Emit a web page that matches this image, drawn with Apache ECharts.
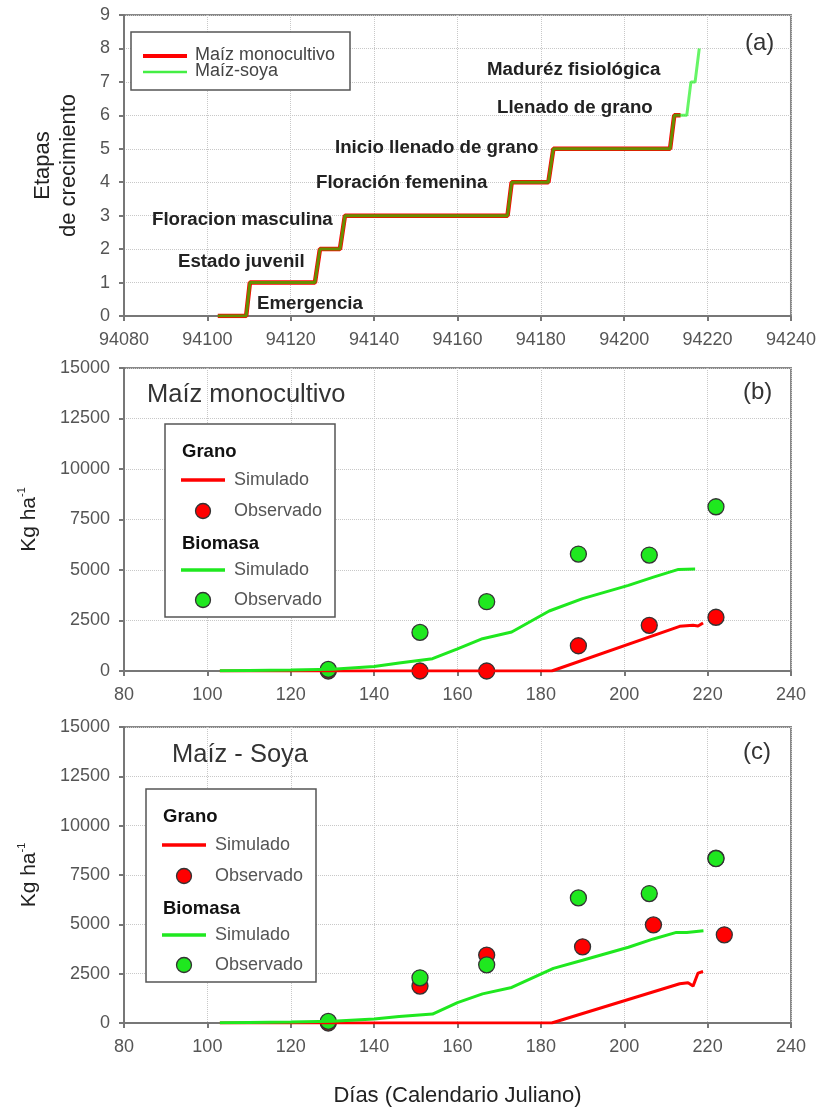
<!DOCTYPE html>
<html>
<head>
<meta charset="utf-8">
<title>Etapas de crecimiento y biomasa</title>
<script src="https://cdn.jsdelivr.net/npm/echarts@6/dist/echarts.min.js"></script>
<style>
html,body{margin:0;padding:0;background:#fff;}
#chart{width:819px;height:1108px;}
</style>
</head>
<body>
<div id="chart"></div>
<script>
// (a) etapas de crecimiento
var monoStageDay = [94102.5, 94109.3, 94110.2, 94125.8, 94127, 94131.8, 94133, 94172, 94173, 94181.8, 94183, 94211, 94212, 94213.5];
var monoStage    = [0, 0, 1, 1, 2, 2, 3, 3, 4, 4, 5, 5, 6, 6];
var soyaStageDay = [94102.5, 94109.3, 94110.2, 94125.8, 94127, 94131.8, 94133, 94172, 94173, 94181.8, 94183, 94211, 94212, 94215, 94216, 94217, 94218];
var soyaStage    = [0, 0, 1, 1, 2, 2, 3, 3, 4, 4, 5, 5, 6, 6, 7, 7, 8];
var stageNames = ['Emergencia', 'Estado juvenil', 'Floracion masculina', 'Floración femenina',
                  'Inicio llenado de grano', 'Llenado de grano', 'Maduréz fisiológica'];

// (b) maiz monocultivo
var monoBioSimDay   = [103, 110, 120, 130, 140, 146, 154, 160, 166, 173, 182, 190, 201, 207, 213, 217];
var monoBioSim      = [10, 30, 50, 90, 220, 400, 610, 1100, 1600, 1930, 2970, 3580, 4240, 4650, 5030, 5050];
var monoGrainSimDay = [103, 181.3, 182.6, 213.3, 216.5, 217.7, 218.9];
var monoGrainSim    = [0, 0, 0, 2210, 2260, 2230, 2380];
var monoObsDay      = [129, 151, 167, 189, 206, 222];
var monoGrainObs    = [0, 0, 0, 1250, 2260, 2660];
var monoBioObs      = [80, 1910, 3430, 5790, 5740, 8130];

// (c) maiz - soya
var soyaBioSimDay   = [103, 110, 120, 130, 140, 146, 154, 160, 166, 173, 183, 190, 201, 207, 212.5, 215, 219];
var soyaBioSim      = [10, 30, 50, 90, 200, 330, 450, 1030, 1475, 1800, 2770, 3180, 3840, 4260, 4590, 4590, 4670];
var soyaGrainSimDay = [103, 181.3, 182.6, 213.3, 215.3, 216.5, 217.7, 218.9];
var soyaGrainSim    = [0, 0, 0, 1990, 2040, 1870, 2530, 2610];
var soyaGrainObsDay = [129, 151, 167, 190, 207, 222, 224];
var soyaGrainObs    = [0, 1870, 3440, 3860, 4970, 8350, 4470];
var soyaBioObsDay   = [129, 151, 167, 189, 206, 222];
var soyaBioObs      = [80, 2290, 2950, 6340, 6560, 8330];

var FONT = '"Liberation Sans", Arial, sans-serif';
var RED = '#ff0000', GREEN = '#1fe81f';

function zip(xs, ys) {
  return xs.map(function (x, i) { return [x, ys[i]]; });
}

var chart = echarts.init(document.getElementById('chart'));

function xAx(idx, min, max, name) {
  return {
    type: 'value', gridIndex: idx, min: min, max: max, interval: 20,
    name: name || '', nameLocation: 'middle', nameGap: 62,
    nameTextStyle: {fontFamily: FONT, fontSize: 22, color: '#222'},
    axisLine: {lineStyle: {color: '#777', width: 2}},
    axisTick: {show: true, length: 5, lineStyle: {color: '#777', width: 2}},
    axisLabel: {fontFamily: FONT, fontSize: 18, color: '#555', margin: 15,
      formatter: function (v) { return String(v); }},
    splitLine: {show: true, lineStyle: {type: 'dotted', color: '#c8c8c8', width: 1}}
  };
}
function yAx(idx, max, interval, name, gap, rich) {
  return {
    type: 'value', gridIndex: idx, min: 0, max: max, interval: interval,
    name: name, nameLocation: 'middle', nameGap: gap, nameRotate: 90,
    nameTextStyle: {fontFamily: FONT, fontSize: 22, color: '#222', lineHeight: 26, rich: rich},
    axisLine: {lineStyle: {color: '#777', width: 2}},
    axisTick: {show: true, length: 5, lineStyle: {color: '#777', width: 2}},
    axisLabel: {fontFamily: FONT, fontSize: 18, color: '#555', margin: 14,
      formatter: function (v) { return String(v); }},
    splitLine: {show: true, lineStyle: {type: 'dotted', color: '#c8c8c8', width: 1}}
  };
}
var kgRich = {
  n: {fontFamily: FONT, fontSize: 21, color: '#222'},
  s: {fontFamily: FONT, fontSize: 11, color: '#222', verticalAlign: 'top', padding: [0, 0, 12, 0]}
};

function lineS(name, xi, xs, ys, color, width, opacity) {
  return {
    name: name, type: 'line', xAxisIndex: xi, yAxisIndex: xi, data: zip(xs, ys),
    showSymbol: false, symbol: 'none', animation: false,
    lineStyle: {color: color, width: width, opacity: opacity == null ? 1 : opacity}
  };
}
function obsS(name, xi, xs, ys, color) {
  return {
    name: name, type: 'scatter', xAxisIndex: xi, yAxisIndex: xi, data: zip(xs, ys),
    symbol: 'circle', symbolSize: 16, animation: false,
    itemStyle: {color: color, borderColor: '#333', borderWidth: 1.3, opacity: 1}
  };
}

function txt(x, y, s, size, weight, color, align) {
  return {type: 'text', x: x, y: y, silent: true, z: 100,
    style: {text: s, fontFamily: FONT, fontSize: size, fontWeight: weight || 'normal',
      fill: color || '#222', textAlign: align || 'left', textVerticalAlign: 'middle'}};
}
function seg(x1, y1, x2, y2, color, w) {
  return {type: 'line', silent: true, z: 100, shape: {x1: x1, y1: y1, x2: x2, y2: y2},
    style: {stroke: color, lineWidth: w}};
}
function dot(x, y, color) {
  return {type: 'circle', silent: true, z: 100, shape: {cx: x, cy: y, r: 7.5},
    style: {fill: color, stroke: '#333', lineWidth: 1.3}};
}
function boxLegend(x, y) {
  return [
    {type: 'rect', silent: true, z: 99, shape: {x: x, y: y, width: 170, height: 193},
      style: {fill: '#fff', stroke: '#555', lineWidth: 1.5}},
    txt(x + 17, y + 28, 'Grano', 18.5, 'bold', '#111'),
    seg(x + 16, y + 56, x + 60, y + 56, RED, 3.5),
    txt(x + 69, y + 56, 'Simulado', 18, 'normal', '#555'),
    dot(x + 38, y + 87, RED),
    txt(x + 69, y + 87, 'Observado', 18, 'normal', '#555'),
    txt(x + 17, y + 120, 'Biomasa', 18.5, 'bold', '#111'),
    seg(x + 16, y + 146, x + 60, y + 146, GREEN, 3.5),
    txt(x + 69, y + 146, 'Simulado', 18, 'normal', '#555'),
    dot(x + 38, y + 176, GREEN),
    txt(x + 69, y + 176, 'Observado', 18, 'normal', '#555')
  ];
}

var STAGE_FS = 18.7;
var graphics = [
  // (a) leyenda
  {type: 'rect', silent: true, z: 99, shape: {x: 131, y: 32, width: 219, height: 58},
    style: {fill: '#fff', stroke: '#555', lineWidth: 1.5}},
  seg(143, 56, 187, 56, RED, 4),
  seg(143, 72, 187, 72, '#44ee44', 2.5),
  txt(195, 55, 'Maíz monocultivo', 18, 'normal', '#444'),
  txt(195, 71, 'Maíz-soya', 18, 'normal', '#444'),
  txt(745, 43, '(a)', 24, 'normal', '#333'),
  // etapas
  txt(257, 304, stageNames[0], STAGE_FS, 'bold', '#222'),
  txt(178, 262, stageNames[1], STAGE_FS, 'bold', '#222'),
  txt(152, 220, stageNames[2], STAGE_FS, 'bold', '#222'),
  txt(316, 183, stageNames[3], STAGE_FS, 'bold', '#222'),
  txt(335, 148, stageNames[4], STAGE_FS, 'bold', '#222'),
  txt(497, 108, stageNames[5], STAGE_FS, 'bold', '#222'),
  txt(487, 70, stageNames[6], STAGE_FS, 'bold', '#222'),
  // (b)
  txt(147, 395, 'Maíz monocultivo', 25.5, 'normal', '#333'),
  txt(743, 392, '(b)', 24, 'normal', '#333'),
  // (c)
  txt(172, 755, 'Maíz - Soya', 25.5, 'normal', '#333'),
  txt(743, 752, '(c)', 24, 'normal', '#333')
].concat(boxLegend(165, 424), boxLegend(146, 789));

var option = {
  backgroundColor: '#fff',
  animation: false,
  grid: [
    {left: 124, top: 15, width: 667, height: 301, show: true, borderColor: '#888', borderWidth: 2},
    {left: 124, top: 368, width: 667, height: 303, show: true, borderColor: '#888', borderWidth: 2},
    {left: 124, top: 727, width: 667, height: 302, show: true, borderColor: '#888', borderWidth: 2}
  ],
  xAxis: [
    xAx(0, 94080, 94240),
    xAx(1, 80, 240),
    xAx(2, 80, 240, 'Días (Calendario Juliano)')
  ],
  yAxis: [
    yAx(0, 9, 1, 'Etapas\nde crecimiento', 42),
    yAx(1, 15000, 2500, '{n|Kg ha}{s|-1}', 82, kgRich),
    yAx(2, 15000, 2500, '{n|Kg ha}{s|-1}', 82, kgRich)
  ],
  series: [
    lineS('Maíz monocultivo', 0, monoStageDay, monoStage, RED, 4.5),
    lineS('Maíz-soya', 0, soyaStageDay, soyaStage, '#00ee00', 3, 0.6),

    lineS('Grano simulado (b)', 1, monoGrainSimDay, monoGrainSim, RED, 3),
    lineS('Biomasa simulada (b)', 1, monoBioSimDay, monoBioSim, GREEN, 3),
    obsS('Grano observado (b)', 1, monoObsDay, monoGrainObs, RED),
    obsS('Biomasa observada (b)', 1, monoObsDay, monoBioObs, GREEN),

    lineS('Grano simulado (c)', 2, soyaGrainSimDay, soyaGrainSim, RED, 3),
    lineS('Biomasa simulada (c)', 2, soyaBioSimDay, soyaBioSim, GREEN, 3),
    obsS('Grano observado (c)', 2, soyaGrainObsDay, soyaGrainObs, RED),
    obsS('Biomasa observada (c)', 2, soyaBioObsDay, soyaBioObs, GREEN)
  ],
  graphic: graphics
};

chart.setOption(option);
</script>
</body>
</html>
